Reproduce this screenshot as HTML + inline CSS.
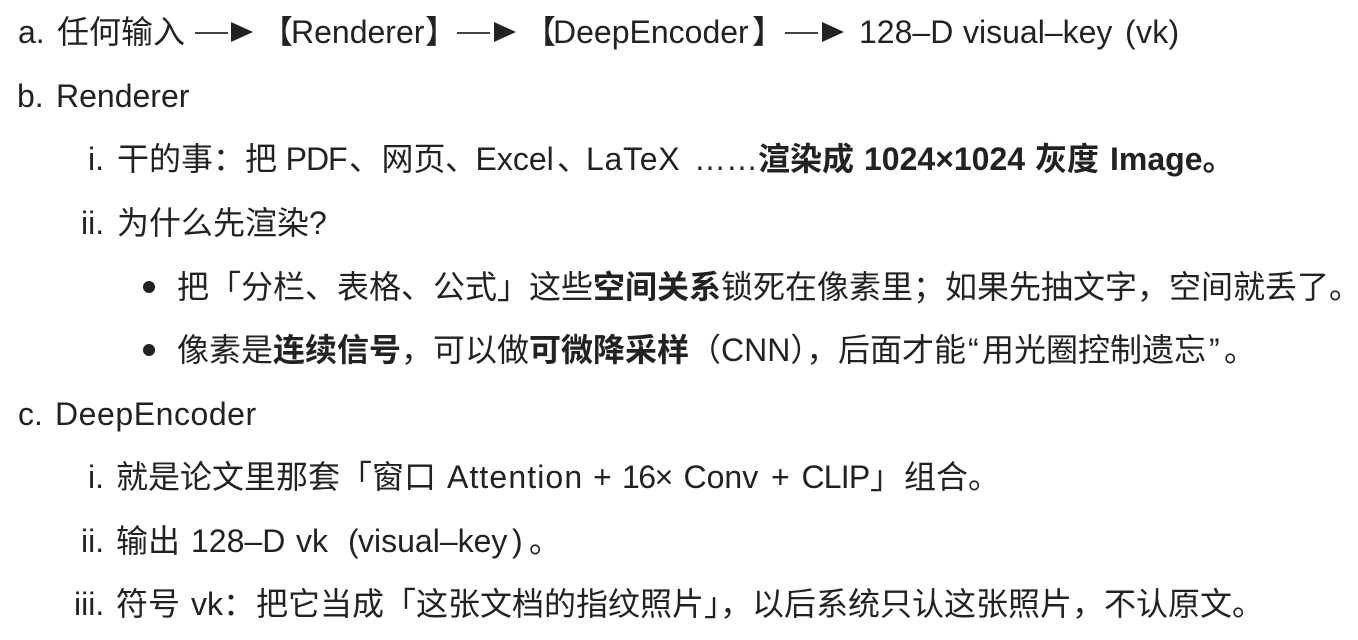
<!DOCTYPE html>
<html lang="zh-CN">
<head>
<meta charset="utf-8">
<title>Renderer and DeepEncoder notes</title>
<style>
html,body{margin:0;padding:0;background:#fff;}
#p{position:relative;width:1358px;height:640px;overflow:hidden;background:#fff;color:#222;
font-family:"Liberation Sans","Noto Sans CJK SC",sans-serif;font-size:32px;}
#p span{position:absolute;white-space:pre;line-height:44px;height:44px;}
b{font-weight:700;}
.l1{top:10px}.l2{top:74px}.l3{top:137px}.l4{top:201px}.l5{top:265px}
.l6{top:328px}.l7{top:392px}.l8{top:455px}.l9{top:519px}.l10{top:582px}
i.dot{position:absolute;width:12px;height:12px;border-radius:50%;background:#222;left:143px;}
i.ln{position:absolute;height:2px;width:33px;background:#444;top:32px;}
i.tr{position:absolute;top:22px;width:0;height:0;border-left:22px solid #222;border-top:10.5px solid transparent;border-bottom:10.5px solid transparent;}
</style>
</head>
<body>
<div id="p">
<span class="l1" style="left:18px">a.</span>
<span class="l1" style="left:57px">任何输入</span>
<i class="ln" style="left:195px"></i><i class="tr" style="left:231px"></i>
<span class="l1" style="left:261px">【</span>
<span class="l1" style="left:291px">Renderer</span>
<span class="l1" style="left:425px">】</span>
<i class="ln" style="left:457px"></i><i class="tr" style="left:494px"></i>
<span class="l1" style="left:524px">【</span>
<span class="l1" style="left:553px">DeepEncoder</span>
<span class="l1" style="left:752px">】</span>
<i class="ln" style="left:785px"></i><i class="tr" style="left:822px"></i>
<span class="l1" style="left:859px">128–D</span>
<span class="l1" style="left:963px">visual–key</span>
<span class="l1" style="left:1125px;letter-spacing:.3px">(vk)</span>

<span class="l2" style="left:17px">b.</span>
<span class="l2" style="left:56px">Renderer</span>

<span class="l3" style="left:88px">i.</span>
<span class="l3" style="left:117px">干的事：</span>
<span class="l3" style="left:245px">把</span>
<span class="l3" style="left:285.6px;letter-spacing:-1px">PDF</span>
<span class="l3" style="left:349px">、</span>
<span class="l3" style="left:381.5px">网页</span>
<span class="l3" style="left:445px">、</span>
<span class="l3" style="left:475.5px">Excel</span>
<span class="l3" style="left:557px">、</span>
<span class="l3" style="left:586px;letter-spacing:.7px">LaTeX</span>
<span class="l3" style="left:694px">……</span>
<span class="l3" style="left:758px"><b>渲染成</b></span>
<span class="l3" style="left:864px"><b>1024×1024</b></span>
<span class="l3" style="left:1035px"><b>灰度</b></span>
<span class="l3" style="left:1110px"><b>Image。</b></span>

<span class="l4" style="left:81px">ii.</span>
<span class="l4" style="left:117px">为什么先渲染?</span>

<i class="dot" style="top:281px"></i>
<span class="l5" style="left:177px">把「分栏、表格、公式」这些<b>空间关系</b>锁死在像素里；如果先抽文字，空间就丢了。</span>

<i class="dot" style="top:344px"></i>
<span class="l6" style="left:177px">像素是<b>连续信号</b>，可以做<b>可微降采样</b></span>
<span class="l6" style="left:689px">（CNN），</span>
<span class="l6" style="left:838px">后面才能</span>
<span class="l6" style="left:968px">“</span>
<span class="l6" style="left:982px">用光圈控制遗忘</span>
<span class="l6" style="left:1209px">”</span>
<span class="l6" style="left:1224px">。</span>

<span class="l7" style="left:18px">c.</span>
<span class="l7" style="left:55px;letter-spacing:.55px">DeepEncoder</span>

<span class="l8" style="left:88px">i.</span>
<span class="l8" style="left:116px">就是论文里那套「窗口</span>
<span class="l8" style="left:447px;letter-spacing:1.1px">Attention</span>
<span class="l8" style="left:593px">+</span>
<span class="l8" style="left:622px;letter-spacing:-1.5px">16×</span>
<span class="l8" style="left:683.5px">Conv</span>
<span class="l8" style="left:771px">+</span>
<span class="l8" style="left:801.5px;letter-spacing:-.8px">CLIP</span>
<span class="l8" style="left:870px">」</span>
<span class="l8" style="left:904px">组合。</span>

<span class="l9" style="left:81px">ii.</span>
<span class="l9" style="left:116px">输出</span>
<span class="l9" style="left:191px">128–D</span>
<span class="l9" style="left:296px">vk</span>
<span class="l9" style="left:348px">(</span>
<span class="l9" style="left:358px">visual–key</span>
<span class="l9" style="left:512px">)</span>
<span class="l9" style="left:529px">。</span>

<span class="l10" style="left:74px">iii.</span>
<span class="l10" style="left:116px">符号</span>
<span class="l10" style="left:191px">vk：</span>
<span class="l10" style="left:256px">把它当成「这张文档的指纹照片」，以后系统只认这张照片，不认原文。</span>
</div>
</body>
</html>
